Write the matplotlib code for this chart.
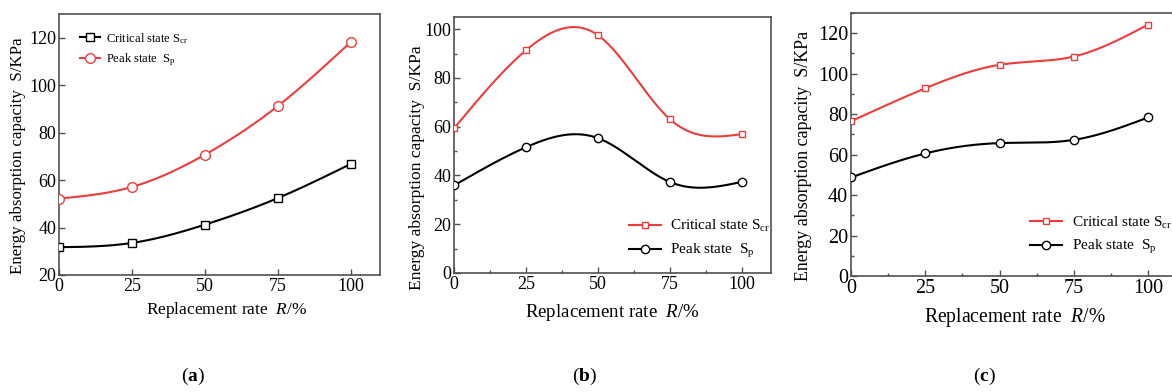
import numpy as np
import matplotlib
matplotlib.use("Agg")
import matplotlib.pyplot as plt
from matplotlib.ticker import MultipleLocator

plt.rcParams['font.family'] = ['Liberation Serif', 'DejaVu Serif']
plt.rcParams['mathtext.fontset'] = 'custom'
plt.rcParams['mathtext.rm'] = 'Liberation Serif'
plt.rcParams['mathtext.it'] = 'Liberation Serif:italic'
plt.rcParams['mathtext.bf'] = 'Liberation Serif:bold'

# replacement rate R (%)
rate = [0, 25, 50, 75, 100]

# panel (a)
a_critical = [31.7, 33.5, 41.2, 52.4, 66.8]
a_peak = [52.2, 57.1, 70.7, 91.2, 118.2]

# panel (b)
b_critical = [59.3, 91.4, 97.5, 63.0, 57.0]
b_peak = [35.9, 51.6, 55.3, 37.3, 37.4]

# panel (c)
c_critical = [76.5, 92.8, 104.4, 108.5, 124.3]
c_peak = [48.7, 60.6, 65.7, 67.3, 78.4]

RED = '#f03c3c'
SPINE = '#505050'

label_cr = 'Critical state S$_{\\rm cr}$'
label_p = 'Peak state  S$_{\\rm p}$'


def natural_spline(x, y, n=200):
    # smooth curve through the points (natural cubic spline)
    x = np.asarray(x, float)
    y = np.asarray(y, float)
    k = len(x)
    h = np.diff(x)
    A = np.zeros((k, k))
    r = np.zeros(k)
    A[0, 0] = A[-1, -1] = 1
    for i in range(1, k - 1):
        A[i, i - 1] = h[i - 1]
        A[i, i] = 2 * (h[i - 1] + h[i])
        A[i, i + 1] = h[i]
        r[i] = 6 * ((y[i + 1] - y[i]) / h[i] - (y[i] - y[i - 1]) / h[i - 1])
    M = np.linalg.solve(A, r)
    xs = np.linspace(x[0], x[-1], n)
    idx = np.clip(np.searchsorted(x, xs) - 1, 0, k - 2)
    x0, x1 = x[idx], x[idx + 1]
    hh = x1 - x0
    t0, t1 = x1 - xs, xs - x0
    ys = (M[idx] * t0**3 + M[idx + 1] * t1**3) / (6 * hh) \
        + (y[idx] / hh - M[idx] * hh / 6) * t0 \
        + (y[idx + 1] / hh - M[idx + 1] * hh / 6) * t1
    return xs, ys


def draw_series(ax, y, color, marker, label, ms):
    xs, ys = natural_spline(rate, y)
    ax.plot(xs, ys, color=color, lw=1.5, zorder=2)
    ax.plot(rate, y, linestyle='none', marker=marker, ms=ms, mfc='white',
            mec=color, mew=1.0, zorder=3)
    ax.plot([], [], color=color, lw=1.5, marker=marker, ms=ms, mfc='white',
            mec=color, mew=1.0, label=label)


def style_axes(ax, ylim, ystep, minor, tick_fs, xl_fs, xl_pos, yl_fs, yl_pos):
    ax.set_xlim(0, 110)
    ax.set_ylim(*ylim)
    ax.xaxis.set_major_locator(MultipleLocator(25))
    ax.yaxis.set_major_locator(MultipleLocator(ystep))
    if minor:
        ax.xaxis.set_minor_locator(MultipleLocator(12.5))
        ax.yaxis.set_minor_locator(MultipleLocator(ystep / 2))
    ax.tick_params(which='both', direction='in', top=False, right=False,
                   color=SPINE, labelsize=tick_fs, pad=2)
    ax.tick_params(which='major', length=4, width=1)
    ax.tick_params(which='minor', length=2.5, width=1)
    for s in ax.spines.values():
        s.set_color(SPINE)
        s.set_linewidth(1.2)
    ax.set_xlabel('Replacement rate  $R$/%', fontsize=xl_fs, va='center')
    ax.xaxis.set_label_coords(*xl_pos)
    ax.set_ylabel('Energy absorption capacity  S/KPa', fontsize=yl_fs,
                  va='center')
    ax.yaxis.set_label_coords(*yl_pos)


fig = plt.figure(figsize=(11.72, 3.92), dpi=100)

# (a)
ax1 = fig.add_axes([0.0503, 0.2985, 0.2739, 0.6658])
draw_series(ax1, a_critical, 'black', 's', label_cr, 6)
draw_series(ax1, a_peak, RED, 'o', label_p, 7)
style_axes(ax1, (20, 130), 20, False, 13, 12.5, (0.522, -0.134),
           12.2, (-0.128, 0.456))
ax1.legend(loc='upper left', bbox_to_anchor=(0.05, 0.955), frameon=False,
           fontsize=9, handlelength=1.6, handletextpad=0.5, labelspacing=0.45,
           borderaxespad=0)

# (b)
ax2 = fig.add_axes([0.3874, 0.3036, 0.2704, 0.6530])
draw_series(ax2, b_critical, RED, 's', label_cr, 5)
draw_series(ax2, b_peak, 'black', 'o', label_p, 6)
style_axes(ax2, (0, 105), 20, True, 13, 13.6, (0.5, -0.156),
           12.6, (-0.117, 0.41))
ax2.legend(loc='lower left', bbox_to_anchor=(0.532, 0.027), frameon=False,
           fontsize=11, handlelength=2.1, handletextpad=0.6, labelspacing=0.5,
           borderaxespad=0)

# (c)
ax3 = fig.add_axes([0.7261, 0.2959, 0.2790, 0.6709])
draw_series(ax3, c_critical, RED, 's', label_cr, 5)
draw_series(ax3, c_peak, 'black', 'o', label_p, 6)
style_axes(ax3, (0, 130), 20, True, 14.5, 14.1, (0.5, -0.156),
           12.9, (-0.144, 0.456))
ax3.legend(loc='lower left', bbox_to_anchor=(0.53, 0.052), frameon=False,
           fontsize=11, handlelength=2.1, handletextpad=0.6, labelspacing=0.5,
           borderaxespad=0)

for x, tag in [(0.165, 'a'), (0.499, 'b'), (0.840, 'c')]:
    fig.text(x, 0.04, '($\\mathbf{%s}$)' % tag, ha='center', va='center',
             fontsize=14)

fig.savefig('out.png', dpi=100)
